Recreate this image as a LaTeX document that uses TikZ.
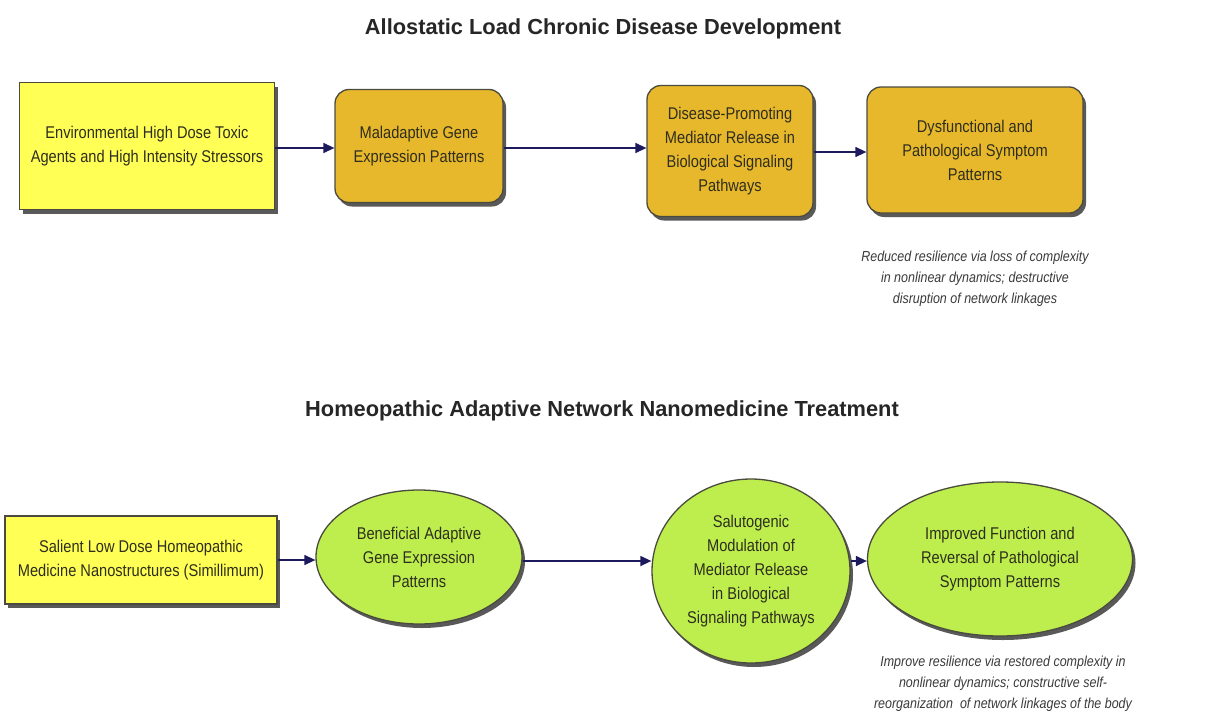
\documentclass[tikz,border=0pt]{standalone}
\usepackage{fontspec}
\setmainfont[FakeStretch=0.86]{Liberation Sans}
\newfontfamily\titlefont{Liberation Sans}
\usetikzlibrary{shapes.geometric,shadows,arrows.meta}
\definecolor{boxyellow}{HTML}{FFFF55}
\definecolor{boxgold}{HTML}{E8B82C}
\definecolor{boxgreen}{HTML}{BEEE4E}
\definecolor{edgegrey}{HTML}{4A4A3E}
\definecolor{navy}{HTML}{1C1A5C}
\definecolor{notegrey}{HTML}{3A3A3A}
\definecolor{boxtext}{HTML}{2E2E1E}
\tikzset{
  base/.style={draw=edgegrey, line width=1.3pt, align=center, inner sep=0pt,
    font=\fontsize{17}{24}\selectfont, text=boxtext,
    drop shadow={shadow xshift=3pt, shadow yshift=-4pt, fill=black!65, opacity=1}},
  rectbox/.style={base, rectangle, fill=boxyellow},
  goldbox/.style={base, rectangle, rounded corners=14pt, fill=boxgold},
  greenell/.style={base, ellipse, fill=boxgreen},
  flow/.style={draw=navy, line width=1.3pt, -{Triangle[length=11pt,width=10pt]}},
  heading/.style={font=\titlefont\bfseries\fontsize{21.8}{26}\selectfont, text=black!85},
  note/.style={font=\itshape\fontsize{14.5}{21}\selectfont, text=notegrey, align=center}
}
\begin{document}
\begin{tikzpicture}[x=1pt,y=-1pt]
\useasboundingbox[fill=white] (0,0) rectangle (1215,720);
\node[heading] (t1) at (603,29) {Allostatic Load Chronic Disease Development};
\node[rectbox, minimum width=255pt, minimum height=127pt] (a1) at (147,146)
  {Environmental High Dose Toxic\\Agents and High Intensity Stressors};
\node[goldbox, minimum width=168pt, minimum height=113pt] (a2) at (419,146)
  {Maladaptive Gene\\Expression Patterns};
\node[goldbox, minimum width=166pt, minimum height=131pt] (a3) at (730,151)
  {Disease-Promoting\\Mediator Release in\\Biological Signaling\\Pathways};
\node[goldbox, minimum width=216pt, minimum height=126pt] (a4) at (975,150)
  {Dysfunctional and\\Pathological Symptom\\Patterns};
\draw[flow] (a1.east |- 0,148) -- (a2.west |- 0,148);
\draw[flow] (a2.east |- 0,148) -- (a3.west |- 0,148);
\draw[flow] (a3.east |- 0,152) -- (a4.west |- 0,152);
\node[note] (n1) at (975,279)
  {Reduced resilience via loss of complexity\\in nonlinear dynamics; destructive\\disruption of network linkages};

\node[heading] (t2) at (602,411) {Homeopathic Adaptive Network Nanomedicine Treatment};
\node[rectbox, minimum width=272pt, minimum height=88pt] (b1) at (141,560)
  {Salient Low Dose Homeopathic\\Medicine Nanostructures (Simillimum)};
\node[greenell, minimum width=206pt, minimum height=134pt] (b2) at (419,557)
  {Beneficial Adaptive\\Gene Expression\\Patterns};
\node[greenell, minimum width=198pt, minimum height=184pt] (b3) at (751,571)
  {Salutogenic\\Modulation of\\Mediator Release\\in Biological\\Signaling Pathways};
\node[greenell, minimum width=265pt, minimum height=154pt] (b4) at (1000,559)
  {Improved Function and\\Reversal of Pathological\\Symptom Patterns};
\draw[flow] (b1.east |- 0,560) -- (b2.west |- 0,560);
\draw[flow] (b2.east |- 0,561) -- (b3.west |- 0,561);
\draw[flow] (b3.east |- 0,561) -- (b4.west |- 0,561);
\node[note] (n2) at (1003,684)
  {Improve resilience via restored complexity in\\nonlinear dynamics; constructive self-\\reorganization\ \ of network linkages of the body};
\end{tikzpicture}
\end{document}
